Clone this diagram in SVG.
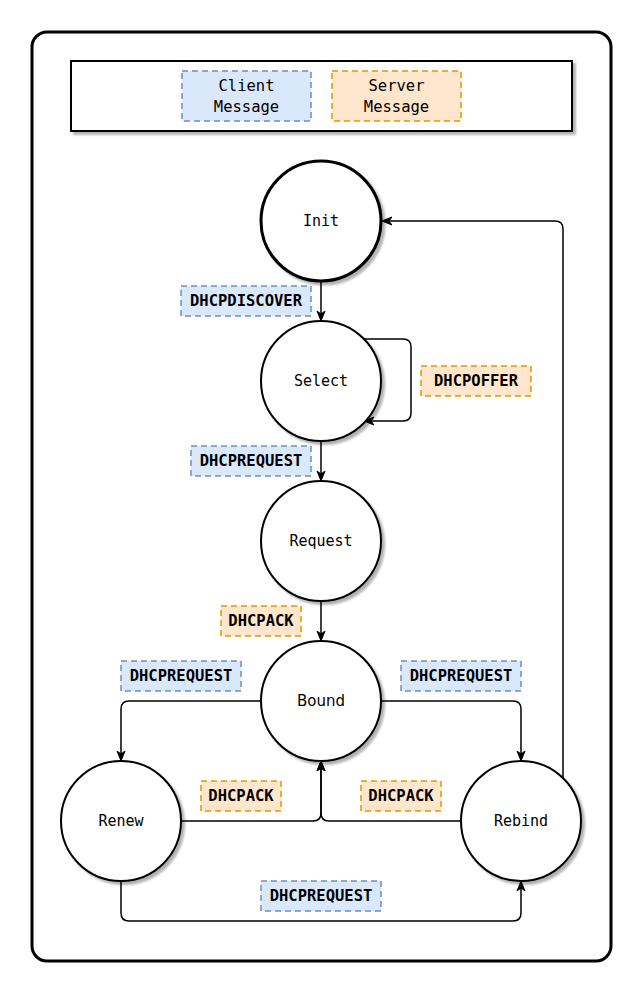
<svg xmlns="http://www.w3.org/2000/svg" width="643" height="993" viewBox="0 0 643 993">
<defs>
<marker id="arr" viewBox="0 0 10 10" refX="9" refY="5" markerWidth="10" markerHeight="10" markerUnits="userSpaceOnUse" orient="auto">
<path d="M0,1 L10,5 L0,9 L3,5 Z" fill="#000" stroke="#000" stroke-width="1"/>
</marker>
<filter id="sh" x="-20%" y="-20%" width="140%" height="140%">
<feGaussianBlur in="SourceAlpha" stdDeviation="1"/>
<feOffset dx="3" dy="3" result="o"/>
<feComponentTransfer><feFuncA type="linear" slope="0.3"/></feComponentTransfer>
<feMerge><feMergeNode/><feMergeNode in="SourceGraphic"/></feMerge>
</filter>
</defs>
<style>
.node{fill:#fff;stroke:#000;stroke-width:2;}
.nt{font-family:"DejaVu Sans Mono",monospace;font-size:15px;text-anchor:middle;dominant-baseline:central;fill:#000;}
.cl{fill:#dae8fc;stroke:#6c8ebf;stroke-width:1.5;stroke-dasharray:6 4;}
.sv{fill:#ffe6cc;stroke:#d79b00;stroke-width:1.5;stroke-dasharray:6 4;}
.lt{font-family:"DejaVu Sans Mono",monospace;font-weight:bold;font-size:15.5px;text-anchor:middle;dominant-baseline:central;fill:#000;}
.lg{font-family:"DejaVu Sans Mono",monospace;font-size:15.5px;text-anchor:middle;fill:#000;}
.c{fill:none;stroke:#000;stroke-width:1.5;marker-end:url(#arr);}
</style>
<rect x="0" y="0" width="643" height="993" fill="#fff"/>
<g id="frame"><rect x="32" y="32" width="579" height="929" rx="15" fill="#fff" stroke="#000" stroke-width="3"/></g>
<g id="legend">
<rect x="71" y="61" width="501" height="70" fill="#fff" stroke="#000" stroke-width="2" filter="url(#sh)"/>
<rect class="cl" x="182" y="71" width="129" height="50"/>
<text class="lg" x="246.5" y="91">Client</text>
<text class="lg" x="246.5" y="112">Message</text>
<rect class="sv" x="332" y="71" width="129" height="50"/>
<text class="lg" x="396.5" y="91">Server</text>
<text class="lg" x="396.5" y="112">Message</text>
</g>
<g id="connectors">
<path class="c" d="M321,282 L321,320"/>
<path class="c" d="M363,339 L403,339 Q411,339 411,347 L411,413 Q411,421 403,421 L365,421"/>
<path class="c" d="M321,441 L321,480"/>
<path class="c" d="M321,601 L321,640"/>
<path class="c" d="M261,701 L129,701 Q121,701 121,709 L121,760"/>
<path class="c" d="M381,701 L513,701 Q521,701 521,709 L521,760"/>
<path class="c" d="M181,821 L313,821 Q321,821 321,813 L321,762"/>
<path class="c" d="M461,821 L329,821 Q321,821 321,813 L321,762"/>
<path class="c" d="M121,881 L121,913 Q121,921 129,921 L513,921 Q521,921 521,913 L521,882"/>
<path class="c" d="M563,779 L563,229 Q563,221 555,221 L383,221"/>
</g>
<g id="init"><circle cx="321" cy="221" r="60" class="node" style="stroke-width:3" filter="url(#sh)"/><text class="nt" x="321" y="221">Init</text></g>
<g id="select"><circle cx="321" cy="381" r="60" class="node" filter="url(#sh)"/><text class="nt" x="321" y="381">Select</text></g>
<g id="request"><circle cx="321" cy="541" r="60" class="node" filter="url(#sh)"/><text class="nt" x="321" y="541">Request</text></g>
<g id="bound"><circle cx="321" cy="701" r="60" class="node" filter="url(#sh)"/><text class="nt" x="321" y="701" style="font-family:'DejaVu Sans',sans-serif;font-size:15px">Bound</text></g>
<g id="renew"><circle cx="121" cy="821" r="60" class="node" filter="url(#sh)"/><text class="nt" x="121" y="821">Renew</text></g>
<g id="rebind"><circle cx="521" cy="821" r="60" class="node" filter="url(#sh)"/><text class="nt" x="521" y="821">Rebind</text></g>
<g id="labels">
<g id="l-discover"><rect class="cl" x="181" y="286" width="130" height="30"/><text class="lt" x="246" y="301">DHCPDISCOVER</text></g>
<g id="l-offer"><rect class="sv" x="421" y="366" width="110" height="30"/><text class="lt" x="476" y="381">DHCPOFFER</text></g>
<g id="l-request1"><rect class="cl" x="191" y="446" width="120" height="30"/><text class="lt" x="251" y="461">DHCPREQUEST</text></g>
<g id="l-ack1"><rect class="sv" x="221" y="606" width="80" height="30"/><text class="lt" x="261" y="621">DHCPACK</text></g>
<g id="l-request2"><rect class="cl" x="121" y="661" width="120" height="30"/><text class="lt" x="181" y="676">DHCPREQUEST</text></g>
<g id="l-request3"><rect class="cl" x="401" y="661" width="120" height="30"/><text class="lt" x="461" y="676">DHCPREQUEST</text></g>
<g id="l-ack2"><rect class="sv" x="201" y="781" width="80" height="30"/><text class="lt" x="241" y="796">DHCPACK</text></g>
<g id="l-ack3"><rect class="sv" x="361" y="781" width="80" height="30"/><text class="lt" x="401" y="796">DHCPACK</text></g>
<g id="l-request4"><rect class="cl" x="261" y="881" width="120" height="30"/><text class="lt" x="321" y="896">DHCPREQUEST</text></g>
</g>
</svg>
